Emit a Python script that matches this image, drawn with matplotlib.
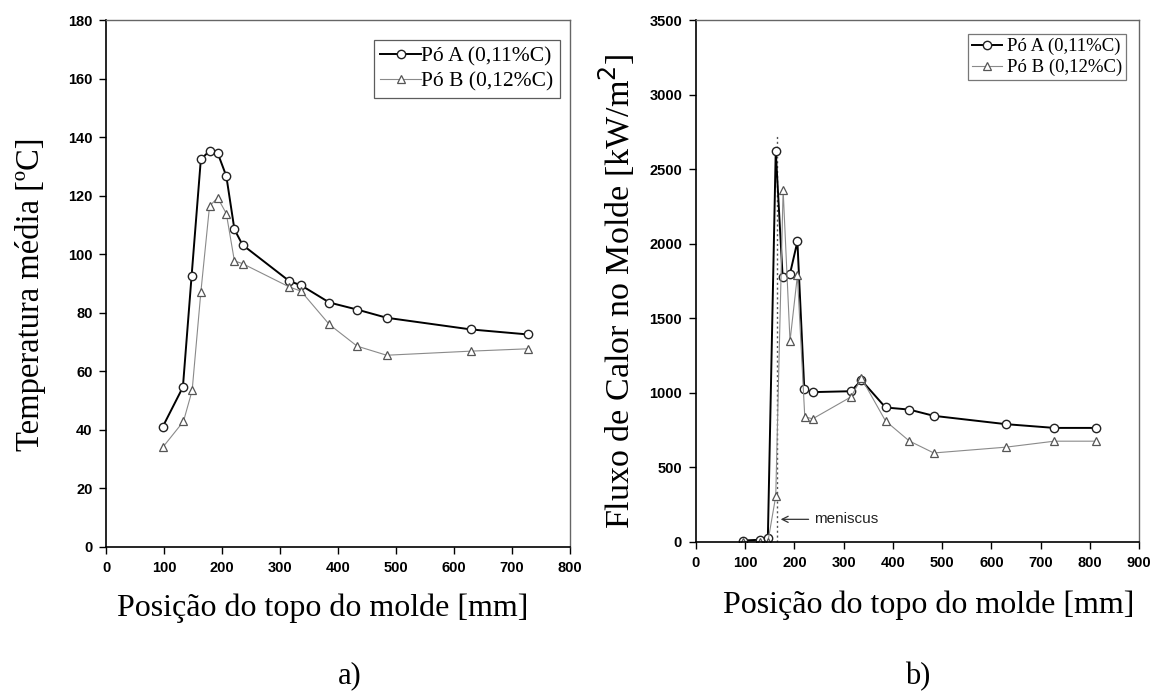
import matplotlib
matplotlib.use('Agg')
import matplotlib.pyplot as plt

# a) mean temperature
pos_a_A = [97, 132, 147, 163, 178, 192, 207, 221, 235, 316, 336, 385, 433, 484, 630, 728]
temp_A = [41, 54.6, 92.5, 132.4, 135.3, 134.6, 126.7, 108.5, 103.2, 90.8, 89.4, 83.5, 81.1, 78.3, 74.3, 72.6]
pos_a_B = [97, 133, 148, 163, 178, 192, 207, 221, 235, 316, 336, 385, 433, 484, 630, 728]
temp_B = [34, 42.9, 53.5, 87, 116.4, 119.3, 113.9, 97.7, 96.8, 88.8, 87.4, 76, 68.6, 65.5, 66.9, 67.7]

# b) heat flux
pos_b_A = [96, 130, 146, 162, 176, 191, 206, 220, 237, 315, 336, 385, 433, 483, 630, 728, 813]
flux_A = [10, 15, 30, 2624, 1778, 1799, 2015, 1025, 1005, 1011, 1085, 902, 888, 846, 790, 765, 765]
pos_b_B = [96, 130, 146, 162, 177, 191, 206, 221, 237, 315, 336, 385, 433, 483, 630, 728, 813]
flux_B = [0, 0, 0, 307, 2362, 1347, 1787, 839, 826, 973, 1099, 812, 678, 597, 636, 676, 676]
meniscus_x = 164
meniscus_top = 2730

label_A = 'Pó A (0,11%C)'
label_B = 'Pó B (0,12%C)'
serif = 'Liberation Serif'
sans = 'Liberation Sans'

fig = plt.figure(figsize=(11.6, 6.93), dpi=100)
ax1 = fig.add_axes([0.0918, 0.2107, 0.3992, 0.7604])
ax2 = fig.add_axes([0.600, 0.2179, 0.3819, 0.7532])


def style_axis(ax):
    for s in ['left', 'bottom']:
        ax.spines[s].set_color('black')
        ax.spines[s].set_linewidth(1.2)
    for s in ['top', 'right']:
        ax.spines[s].set_color('#666666')
        ax.spines[s].set_linewidth(1.0)
    ax.tick_params(direction='out', length=5, width=1, top=False, right=False, pad=5)
    for lab in ax.get_xticklabels() + ax.get_yticklabels():
        lab.set_fontfamily(sans)
        lab.set_fontweight('bold')
        lab.set_fontsize(10.5)


ax1.plot(pos_a_A, temp_A, color='black', lw=1.4, marker='o', ms=6,
         mfc='white', mec='#222222', mew=1.0, label=label_A)
ax1.plot(pos_a_B, temp_B, color='#8a8a8a', lw=0.8, marker='^', ms=6,
         mfc='white', mec='#555555', mew=0.9, label=label_B)
ax1.set_xlim(0, 800)
ax1.set_ylim(0, 180)
ax1.set_xticks(range(0, 801, 100))
ax1.set_yticks(range(0, 181, 20))
style_axis(ax1)
ax1.set_xlabel('Posição do topo do molde [mm]', fontfamily=serif, fontsize=23, va='center')
ax1.xaxis.set_label_coords(0.466, -0.116)
ax1.set_ylabel('Temperatura média [ºC]', fontfamily=serif, fontsize=23.5, va='center')
ax1.yaxis.set_label_coords(-0.165, 0.479)
leg1 = ax1.legend(loc='upper right', bbox_to_anchor=(0.988, 0.97), prop={'family': serif, 'size': 15.5},
                  frameon=True, fancybox=False, edgecolor='#333333', handlelength=1.9,
                  handletextpad=0.0, borderpad=0.3, labelspacing=0.2, borderaxespad=0.2)
leg1.get_frame().set_linewidth(0.9)

ax2.plot([meniscus_x, meniscus_x], [0, meniscus_top], color='#555555', lw=1.0, ls=(0, (1.5, 2)))
ax2.plot(pos_b_A, flux_A, color='black', lw=1.4, marker='o', ms=6,
         mfc='white', mec='#222222', mew=1.0, label=label_A)
ax2.plot(pos_b_B, flux_B, color='#8a8a8a', lw=0.8, marker='^', ms=6,
         mfc='white', mec='#555555', mew=0.9, label=label_B)
ax2.annotate('meniscus', xy=(172, 152), xytext=(240, 152), fontfamily=sans, fontsize=11,
             va='center', color='#222222',
             arrowprops=dict(arrowstyle='->', color='#333333', lw=0.9, shrinkA=2, shrinkB=0))
ax2.set_xlim(0, 900)
ax2.set_ylim(0, 3500)
ax2.set_xticks(range(0, 901, 100))
ax2.set_yticks(range(0, 3501, 500))
style_axis(ax2)
ax2.set_xlabel('Posição do topo do molde [mm]', fontfamily=serif, fontsize=23, va='center')
ax2.xaxis.set_label_coords(0.526, -0.121)
ax2.set_ylabel('Fluxo de Calor no Molde [kW/m$^2$]', fontfamily=serif, fontsize=24.5, va='center')
ax2.yaxis.set_label_coords(-0.18, 0.48)
leg2 = ax2.legend(loc='upper right', bbox_to_anchor=(0.98, 0.98), prop={'family': serif, 'size': 13.5},
                  frameon=True, fancybox=False, edgecolor='#555555', handlelength=1.6,
                  handletextpad=0.3, borderpad=0.2, labelspacing=0.2, borderaxespad=0.2)
leg2.get_frame().set_linewidth(0.9)

fig.text(350 / 1160, 1 - 676 / 693, 'a)', fontfamily=serif, fontsize=22, ha='center', va='center')
fig.text(918 / 1160, 1 - 677 / 693, 'b)', fontfamily=serif, fontsize=22, ha='center', va='center')

fig.savefig('out.png', dpi=100, facecolor='white')
